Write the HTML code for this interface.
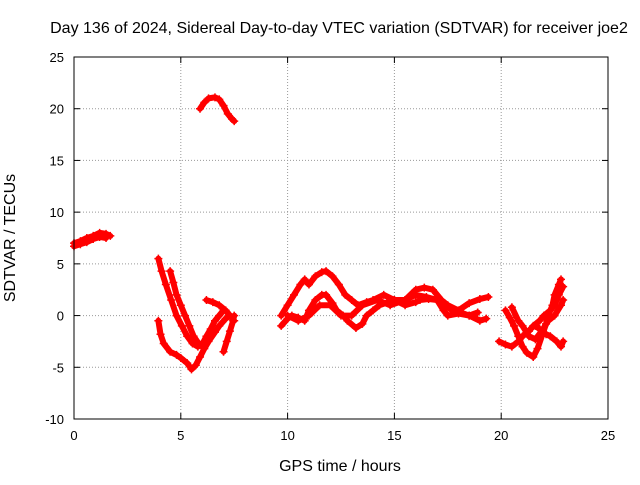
<!DOCTYPE html>
<html><head><meta charset="utf-8"><style>
body{margin:0;background:#fff;}
svg{font-family:"Liberation Sans",sans-serif;}
</style></head><body>
<svg id="chart" width="640" height="480">
<rect width="640" height="480" fill="#fff"/>
<text x="339" y="33" font-size="16" text-anchor="middle">Day 136 of 2024, Sidereal Day-to-day VTEC variation (SDTVAR) for receiver joe2</text>
<text x="340" y="471" font-size="16" text-anchor="middle">GPS time / hours</text>
<text x="15" y="238" font-size="16" text-anchor="middle" transform="rotate(-90 15 238)">SDTVAR / TECUs</text>
<g id="grid"></g><g id="ticks"></g><g id="marks"></g>
<rect x="74" y="57" width="534" height="362" fill="none" stroke="#000" stroke-width="1"/>
</svg>
<script>
const xTicks=[0,5,10,15,20,25];
const yTicks=[-10,-5,0,5,10,15,20,25];
const s1x=[0,0.3,0.6,0.9,1.2,1.5,1.7];
const s1y=[7,7.2,7.5,7.7,8,7.9,7.7];
const s1bx=[0,0.3,0.6,0.9,1.2,1.5];
const s1by=[6.7,6.9,7.1,7.4,7.6,7.5];
const s2x=[5.9,6.1,6.3,6.6,6.8,7.0,7.2,7.4,7.5];
const s2y=[20,20.6,21,21.1,20.9,20.3,19.5,19,18.8];
const s3x=[3.95,4.1,4.3,4.55,4.8,5.05,5.3,5.55,5.8,6.0,6.2,6.4,6.6,6.8,7.0];
const s3y=[5.5,4.3,3,1.5,0,-1,-2,-2.7,-3,-2.8,-2,-1.3,-0.5,0,0.5];
const s4x=[4.5,4.65,4.8,5.0,5.2,5.4,5.6,5.8,6.0,6.2,6.4];
const s4y=[4.3,3.2,2,1,0,-1,-2,-2.6,-3,-2.5,-1.5];
const s5x=[3.95,4.05,4.2,4.5,4.8,5.0,5.3,5.5,5.7,5.9,6.1,6.3,6.6,6.8,7.1,7.3];
const s5y=[-0.5,-1.8,-2.7,-3.5,-3.8,-4.1,-4.6,-5.2,-4.8,-4,-3.2,-2.5,-1.6,-1,-0.3,0];
const s6x=[6.2,6.5,6.8,7.1,7.3,7.5];
const s6y=[1.5,1.3,1,0.5,0,-0.5];
const s7x=[7.0,7.15,7.3,7.45,7.5];
const s7y=[-3.5,-2.5,-1.5,-0.5,0];
const s8x=[9.7,10,10.3,10.6,10.8,11,11.3,11.6,11.8,12.1,12.4,12.7,13,13.3,13.7,14,14.5,15,15.5,16,16.4,16.8,17.2,17.5,18,18.5,19,19.4];
const s8y=[0,1,2,3,3.5,3,3.8,4.2,4.3,3.8,3,2,1.5,1,1.3,1.5,2,1.5,1.5,2.5,2.7,2.5,1.5,1,0.5,1.2,1.6,1.8];
const s9x=[9.7,10,10.2,10.5,10.8,11,11.3,11.6,11.8,12.1,12.3,12.6,12.8,13.2,13.5,13.7,14,14.3,14.7,15,15.5,16,16.2,16.6,17,17.3,17.5,18,18.5,19,19.3];
const s9y=[-1,-0.3,0,-0.2,-0.5,0.5,1.5,2,2,1.2,0.5,0,-0.5,-1.2,-0.8,0,0.5,1,1.3,1.5,1,1.3,1.5,1.6,1.5,0.5,0,0.2,0,-0.5,-0.3];
const s10x=[10,10.5,11,11.5,12,12.5,13,13.5,14.2,14.8,15.5,16,16.5,17,17.4,17.7,18.1,18.5,18.9];
const s10y=[0,-0.5,0,1,1,0,0,1,1.5,1,1.5,2,1.8,1.5,1,0.5,0.3,0,0.3];
const s11x=[20.2,20.4,20.6,20.8,21,21.2,21.5,21.7,21.9,22.1,22.2,22.4,22.5,22.7,22.8];
const s11y=[0.5,-0.2,-1,-2,-3,-3.6,-4,-3.2,-2,-0.8,0,1,2,3,3.5];
const s12x=[19.9,20.2,20.5,20.8,21,21.3,21.5,21.8,22,22.3,22.5,22.7,22.9];
const s12y=[-2.5,-2.8,-3,-2.5,-2,-1.5,-1,-0.5,0,0.5,1,2,2.8];
const s13x=[21.6,21.8,22.1,22.3,22.6,22.8,22.9];
const s13y=[-1,-1.3,-1.8,-2,-2.5,-3,-2.5];
const s14x=[20.5,20.8,21,21.3,21.6,21.9,22.2,22.5,22.8,22.9];
const s14y=[0.8,-0.5,-1,-2,-2.3,-1.5,-0.5,0,1,1.5];
const series=[[s1x,s1y],[s1bx,s1by],[s2x,s2y],[s3x,s3y],[s4x,s4y],[s5x,s5y],[s6x,s6y],[s7x,s7y],[s8x,s8y],[s9x,s9y],[s10x,s10y],[s11x,s11y],[s12x,s12y],[s13x,s13y],[s14x,s14y]];
const X0=74,X1=608,Y0=419,Y1=57;
const xs=v=>X0+(v-0)/25*(X1-X0);
const ys=v=>Y0-(v+10)/35*(Y0-Y1);
const NS="http://www.w3.org/2000/svg";
const grid=document.getElementById('grid'),ticks=document.getElementById('ticks'),marks=document.getElementById('marks');
function mk(t,a,p){const e=document.createElementNS(NS,t);for(const k in a)e.setAttribute(k,a[k]);p.appendChild(e);return e;}
xTicks.forEach(v=>{const x=xs(v);
 if(v>0&&v<25){const g=mk('line',{x1:x,x2:x,y1:Y0,y2:Y1,stroke:'#999','stroke-dasharray':'1,2'},grid);
 
 }
 const t=mk('text',{x:x,y:Y0+21,'font-size':13,'text-anchor':'middle'},ticks);t.textContent=v;
 
 
 mk('line',{x1:x,x2:x,y1:Y0,y2:Y0-6,stroke:'#000'},ticks);mk('line',{x1:x,x2:x,y1:Y1,y2:Y1+6,stroke:'#000'},ticks);});
yTicks.forEach(v=>{const y=ys(v);
 if(v>-10&&v<25){const g=mk('line',{x1:X0,x2:X1,y1:y,y2:y,stroke:'#999','stroke-dasharray':'1,2'},grid);
 
 }
 const t=mk('text',{x:X0-10,y:y+5,'font-size':13,'text-anchor':'end'},ticks);t.textContent=v;
 
 
 mk('line',{x1:X0,x2:X0+6,y1:y,y2:y,stroke:'#000'},ticks);mk('line',{x1:X1,x2:X1-6,y1:y,y2:y,stroke:'#000'},ticks);});
series.forEach((s,i)=>{const [sx,sy]=s;
 const pts=sx.map((v,j)=>xs(v)+','+ys(sy[j])).join(' ');
 const pl=mk('polyline',{points:pts,fill:'none',stroke:'#f00','stroke-width':6,'stroke-linejoin':'round','stroke-linecap':'round'},marks);
 
 
 sx.forEach((v,j)=>{const x=xs(v),y=ys(sy[j]);
  const p=mk('path',{d:`M${x-4},${y}h8M${x},${y-4}v8`,stroke:'#f00','stroke-width':1.5},marks);
  
  });});
</script>
</body></html>
